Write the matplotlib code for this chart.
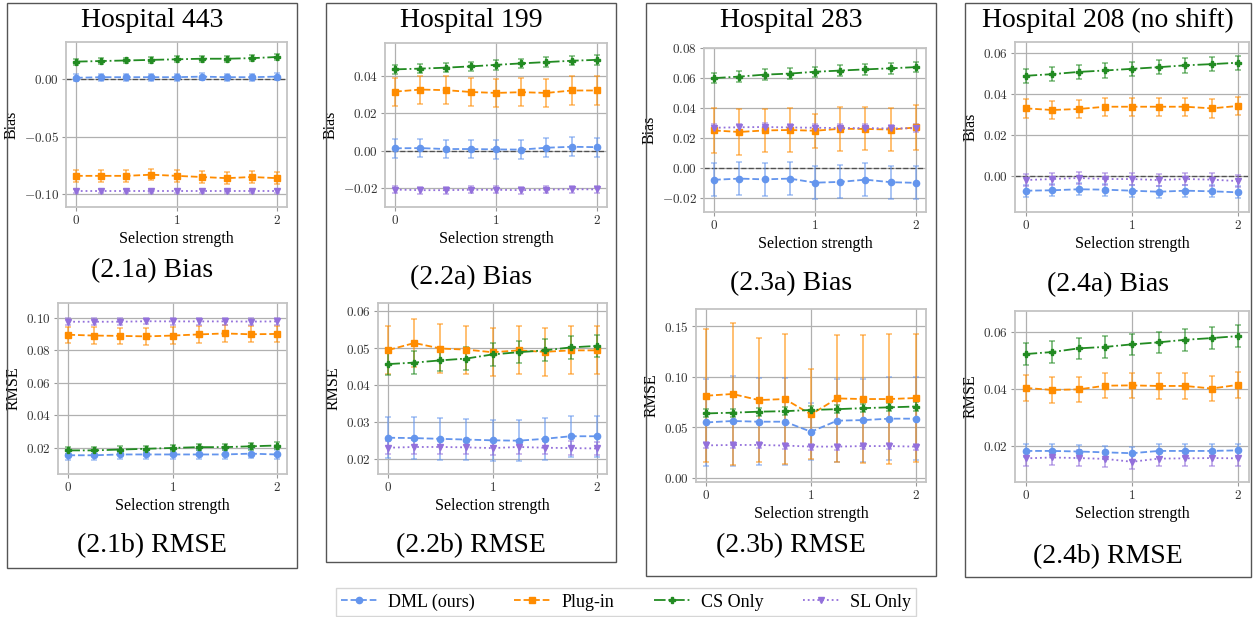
import numpy as np
import matplotlib
matplotlib.use("Agg")
import matplotlib.pyplot as plt
from matplotlib.patches import Rectangle
from matplotlib.ticker import FuncFormatter

plt.rcParams['font.family'] = ['Liberation Serif', 'DejaVu Serif']
plt.rcParams['mathtext.fontset'] = 'cm'

W, H = 1253, 617

strength = [0, 0.25, 0.5, 0.75, 1.0, 1.25, 1.5, 1.75, 2.0]
methods = ['DML (ours)', 'Plug-in', 'CS Only', 'SL Only']
colors = ['cornflowerblue', 'darkorange', 'forestgreen', 'mediumpurple']
markers = ['o', 's', 'P', 'v']
styles = ['--', '--', '-.', ':']

hospitals = ['Hospital 443', 'Hospital 199', 'Hospital 283', 'Hospital 208 (no shift)']
captions_bias = ['(2.1a) Bias', '(2.2a) Bias', '(2.3a) Bias', '(2.4a) Bias']
captions_rmse = ['(2.1b) RMSE', '(2.2b) RMSE', '(2.3b) RMSE', '(2.4b) RMSE']

# rows: DML, Plug-in, CS Only, SL Only
bias_443 = [
    [0.001, 0.0015, 0.0015, 0.0015, 0.0015, 0.002, 0.0015, 0.0015, 0.002],
    [-0.084, -0.084, -0.084, -0.083, -0.084, -0.085, -0.086, -0.085, -0.086],
    [0.015, 0.0155, 0.016, 0.0165, 0.017, 0.0175, 0.0175, 0.018, 0.019],
    [-0.097, -0.097, -0.097, -0.097, -0.097, -0.097, -0.097, -0.097, -0.097],
]
bias_443_err = [0.003, 0.005, 0.0025, 0.002]

rmse_443 = [
    [0.0155, 0.0155, 0.016, 0.016, 0.016, 0.016, 0.016, 0.0165, 0.016],
    [0.0895, 0.089, 0.0888, 0.0885, 0.089, 0.0897, 0.0903, 0.0898, 0.090],
    [0.0185, 0.0185, 0.019, 0.0195, 0.020, 0.0205, 0.0205, 0.021, 0.0215],
    [0.0975, 0.0975, 0.0975, 0.0978, 0.0977, 0.0977, 0.0977, 0.0976, 0.0977],
]
rmse_443_err = [0.0028, 0.005, 0.002, 0.002]

bias_199 = [
    [0.0014, 0.0015, 0.001, 0.001, 0.0008, 0.0007, 0.0017, 0.0022, 0.002],
    [0.0317, 0.0328, 0.0325, 0.0315, 0.031, 0.0314, 0.031, 0.0323, 0.0323],
    [0.0436, 0.044, 0.0445, 0.0452, 0.046, 0.0468, 0.0475, 0.0482, 0.0487],
    [-0.0207, -0.021, -0.021, -0.0208, -0.0208, -0.021, -0.0207, -0.0205, -0.0206],
]
bias_199_err = [0.005, 0.0075, 0.0025, 0.0018]

rmse_199 = [
    [0.0258, 0.0257, 0.0255, 0.0253, 0.0251, 0.025, 0.0255, 0.0262, 0.0262],
    [0.0495, 0.0514, 0.0499, 0.0496, 0.0489, 0.0494, 0.049, 0.0494, 0.0494],
    [0.0457, 0.0461, 0.0467, 0.0472, 0.0483, 0.0489, 0.0494, 0.0502, 0.0506],
    [0.0231, 0.0233, 0.0233, 0.0232, 0.023, 0.0233, 0.0231, 0.023, 0.0229],
]
rmse_199_err = [0.0056, 0.0065, 0.003, 0.0018]

bias_283 = [
    [-0.0076, -0.0068, -0.0073, -0.0068, -0.0095, -0.009, -0.0075, -0.0092, -0.0096],
    [0.0252, 0.0242, 0.0252, 0.0255, 0.025, 0.0263, 0.0262, 0.0258, 0.0272],
    [0.060, 0.061, 0.0623, 0.063, 0.0642, 0.065, 0.0658, 0.0665, 0.0673],
    [0.027, 0.0273, 0.0275, 0.0272, 0.027, 0.0268, 0.0268, 0.0265, 0.0267],
]
bias_283_err = [
    0.011,
    [0.015, 0.0155, 0.0143, 0.0145, 0.0113, 0.0145, 0.0143, 0.0145, 0.0148],
    0.0035,
    0.0025,
]

rmse_283 = [
    [0.0549, 0.0563, 0.0556, 0.0556, 0.0457, 0.0566, 0.0572, 0.0586, 0.0586],
    [0.0813, 0.083, 0.077, 0.078, 0.0628, 0.0786, 0.078, 0.078, 0.079],
    [0.0638, 0.0645, 0.0655, 0.066, 0.0672, 0.068, 0.069, 0.0698, 0.0706],
    [0.0322, 0.0326, 0.0326, 0.032, 0.031, 0.031, 0.0315, 0.0315, 0.031],
]
rmse_283_err = [
    [0.043, 0.044, 0.043, 0.043, 0.028, 0.041, 0.041, 0.041, 0.041],
    [0.0655, 0.070, 0.0615, 0.064, 0.0445, 0.063, 0.063, 0.064, 0.063],
    0.004,
    0.003,
]

bias_208 = [
    [-0.0072, -0.007, -0.0065, -0.0067, -0.0072, -0.0077, -0.0072, -0.0075, -0.008],
    [0.033, 0.0322, 0.0327, 0.0338, 0.0338, 0.0338, 0.0338, 0.033, 0.0342],
    [0.0489, 0.0497, 0.0508, 0.0515, 0.0523, 0.0531, 0.054, 0.0546, 0.0553],
    [-0.002, -0.0015, -0.001, -0.0015, -0.0015, -0.002, -0.0015, -0.0018, -0.0025],
]
bias_208_err = [0.003, 0.0045, 0.0035, 0.003]

rmse_208 = [
    [0.0183, 0.0183, 0.0181, 0.0178, 0.0175, 0.0183, 0.0183, 0.0183, 0.0185],
    [0.0404, 0.0397, 0.0399, 0.0412, 0.0413, 0.0411, 0.0411, 0.0402, 0.0415],
    [0.0523, 0.053, 0.0543, 0.0548, 0.0557, 0.0564, 0.0573, 0.0579, 0.0586],
    [0.0157, 0.016, 0.0158, 0.0155, 0.0145, 0.0156, 0.0157, 0.0158, 0.0157],
]
rmse_208_err = [0.0023, 0.0045, 0.0038, 0.0027]

bias_data = [(bias_443, bias_443_err), (bias_199, bias_199_err),
             (bias_283, bias_283_err), (bias_208, bias_208_err)]
rmse_data = [(rmse_443, rmse_443_err), (rmse_199, rmse_199_err),
             (rmse_283, rmse_283_err), (rmse_208, rmse_208_err)]

# layout in pixels: (left, top, right, bottom)
boxes = [(7, 3, 297, 568), (326, 3, 616, 562), (646, 3, 936, 576), (965, 3, 1251, 577)]
bias_axes = [(66, 42, 287, 207), (385, 43, 607, 207), (704, 48, 926, 212), (1015, 42, 1249, 212)]
rmse_axes = [(58, 303, 287, 474), (378, 303, 607, 474), (696, 309, 926, 482), (1015, 311, 1249, 482)]
bias_ylim = [(-0.111, 0.032), (-0.030, 0.0577), (-0.029, 0.080), (-0.0176, 0.0654)]
bias_ticks = [[-0.10, -0.05, 0.00], [-0.02, 0.00, 0.02, 0.04],
              [-0.02, 0.00, 0.02, 0.04, 0.06, 0.08], [0.00, 0.02, 0.04, 0.06]]
rmse_ylim = [(0.004, 0.109), (0.016, 0.0622), (-0.004, 0.167), (0.0074, 0.0674)]
rmse_ticks = [[0.02, 0.04, 0.06, 0.08, 0.10], [0.02, 0.03, 0.04, 0.05, 0.06],
              [0.00, 0.05, 0.10, 0.15], [0.02, 0.04, 0.06]]
title_base = [27, 27, 27, 27]
bias_cap_base = [277, 284, 290, 291]
rmse_cap_base = [552, 552, 552, 563]


def px_axes(fig, box):
    l, t, r, b = box
    return fig.add_axes([l / W, 1 - b / H, (r - l) / W, (b - t) / H])


def style_axes(ax, ylim, yticks, ylabel):
    ax.set_xlim(-0.1, 2.1)
    ax.set_ylim(*ylim)
    ax.set_xticks([0, 1, 2])
    ax.set_yticks(yticks)
    ax.xaxis.set_major_formatter(FuncFormatter(lambda v, p: f"${v:.0f}$"))
    ax.yaxis.set_major_formatter(FuncFormatter(lambda v, p: f"${v:.2f}$"))
    ax.tick_params(labelsize=9.5, length=3, color='#999999', labelcolor='#333333', pad=2)
    ax.grid(True, color='#b0b0b0', lw=0.9)
    ax.set_axisbelow(True)
    for s in ax.spines.values():
        s.set_color('#c4c4c4')
        s.set_linewidth(1.3)
    ax.set_xlabel('Selection strength', fontsize=11.5, labelpad=3)
    ax.set_ylabel(ylabel, fontsize=11.5, labelpad=3)


def draw_panel(ax, means, errs, zero_line):
    if zero_line:
        ax.axhline(0, color='k', ls='--', lw=1, alpha=0.55, zorder=1)
    handles = []
    for i in range(4):
        y = np.array(means[i])
        e = np.broadcast_to(np.array(errs[i], dtype=float), y.shape)
        ax.errorbar(strength, y, yerr=e, fmt='none', ecolor=colors[i], alpha=0.6,
                    elinewidth=1.3, capsize=2, capthick=1.1, zorder=2)
        h, = ax.plot(strength, y, ls=styles[i], marker=markers[i], color=colors[i],
                     lw=1.3, ms=4.5, zorder=3, label=methods[i])
        handles.append(h)
    return handles


fig = plt.figure(figsize=(W / 100, H / 100), dpi=100)

handles = None
for c in range(4):
    l, t, r, b = boxes[c]
    fig.add_artist(Rectangle((l / W, 1 - b / H), (r - l) / W, (b - t) / H,
                             transform=fig.transFigure, fill=False,
                             ec='#555555', lw=1.0))
    cx = (l + r) / 2 / W
    fig.text(cx, 1 - title_base[c] / H, hospitals[c], ha='center', va='baseline', fontsize=20)
    fig.text(cx, 1 - bias_cap_base[c] / H, captions_bias[c], ha='center', va='baseline', fontsize=20)
    fig.text(cx, 1 - rmse_cap_base[c] / H, captions_rmse[c], ha='center', va='baseline', fontsize=20)

    ax = px_axes(fig, bias_axes[c])
    handles = draw_panel(ax, bias_data[c][0], bias_data[c][1], True)
    style_axes(ax, bias_ylim[c], bias_ticks[c], 'Bias')

    ax = px_axes(fig, rmse_axes[c])
    draw_panel(ax, rmse_data[c][0], rmse_data[c][1], False)
    style_axes(ax, rmse_ylim[c], rmse_ticks[c], 'RMSE')

leg = fig.legend(handles, methods, loc='center', bbox_to_anchor=(626 / W, 1 - 602 / H),
                 ncol=4, fontsize=13, frameon=True, fancybox=False, edgecolor='#cccccc',
                 handlelength=2.0, columnspacing=2.2, borderpad=0.3, handletextpad=0.6)
leg.get_frame().set_linewidth(1.0)

fig.savefig('out.png', dpi=100)
